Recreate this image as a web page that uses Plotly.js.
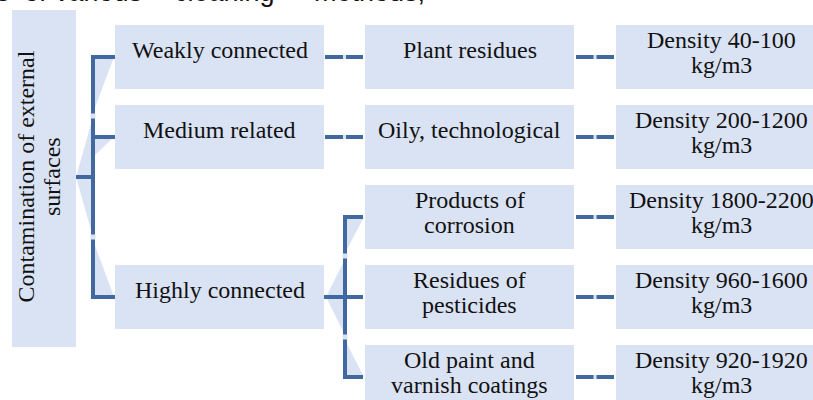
<!DOCTYPE html>
<html>
<head>
<meta charset="utf-8">
<script src="https://cdn.plot.ly/plotly-3.0.1.min.js"></script>
<style>html,body{margin:0;padding:0;background:#fff;}#chart{width:813px;height:400px;}</style>
</head>
<body>
<div id="chart"></div>
<script>
// ---- data ----
const captionWords = ["s", "of", "various", "cleaning", "methods,"];
const rootLabel = ["Contamination of external", "surfaces"];
const level1Labels = [["Weakly connected"], ["Medium related"], ["Highly connected"]];
const level1Rows = [0, 1, 3];
const level2Labels = [["Plant residues"], ["Oily, technological"], ["Products of", "corrosion"], ["Residues of", "pesticides"], ["Old paint and", "varnish coatings"]];
const level2Parent = [0, 1, 2, 2, 2];
const level3Labels = [["Density 40-100", "kg/m3"], ["Density 200-1200", "kg/m3"], ["Density 1800-2200", "kg/m3"], ["Density 960-1600", "kg/m3"], ["Density 920-1920", "kg/m3"]];

// ---- geometry / style ----
const FILL = "#dae3f3", LINE = "#41699f", TXT = "#111111";
const rowC = r => 57 + 80 * r;
const BH = 64;
const col = {root: [12, 76], l1: [115, 324], l2: [365, 574], l3: [616, 826]};
const shapes = [], ann = [];
const fontBox = {family: "Liberation Serif, Times New Roman, serif", size: 24, color: TXT};

function rect(x0, x1, y0, y1, color) {
  shapes.push({type: "rect", xref: "x", yref: "y", x0, x1, y0, y1, fillcolor: color, line: {width: 0}, layer: "below"});
}
function tri(pts) {
  shapes.push({type: "path", xref: "x", yref: "y", path: "M" + pts.map(p => p.join(",")).join("L") + "Z", fillcolor: FILL, line: {width: 0}, layer: "below"});
}
function seg(x0, y0, x1, y1) {
  shapes.push({type: "line", xref: "x", yref: "y", x0, y0, x1, y1, line: {color: LINE, width: 4}});
}
function gap(x, y, w, h) {
  shapes.push({type: "rect", xref: "x", yref: "y", x0: x - w / 2, x1: x + w / 2, y0: y - h / 2, y1: y + h / 2, fillcolor: FILL, line: {width: 0}});
}
function boxText(c, r, lines) {
  const top = rowC(r) - BH / 2;
  const cx = (c[0] + c[1]) / 2;
  const ys = lines.length === 1 ? [top + 25] : [top + 15, top + 39.5];
  lines.forEach((t, i) => ann.push({x: cx, y: ys[i], xref: "x", yref: "y", text: t, showarrow: false, xanchor: "center", yanchor: "middle", font: fontBox}));
}
function box(c, r, lines) {
  rect(c[0], c[1], rowC(r) - BH / 2, rowC(r) + BH / 2, FILL);
  boxText(c, r, lines);
}

// root box
const rootMid = 177;
rect(col.root[0], col.root[1], 10, 347, FILL);
ann.push({x: 25.5, y: rootMid, xref: "x", yref: "y", text: rootLabel[0], textangle: -90, showarrow: false, xanchor: "center", yanchor: "middle", font: fontBox});
ann.push({x: 52, y: rootMid, xref: "x", yref: "y", text: rootLabel[1], textangle: -90, showarrow: false, xanchor: "center", yanchor: "middle", font: fontBox});

// level 1 tree
const vx1 = 93;
const l1Y = level1Rows.map(rowC);
tri([[col.root[1], rootMid], [vx1, 117], [vx1, 237]]);
tri([[vx1, l1Y[0]], [col.l1[0] - 1, l1Y[0]], [vx1, 113]]);
tri([[vx1, l1Y[1]], [col.l1[0] - 1, l1Y[1]], [vx1, 157]]);
tri([[vx1, 240], [vx1, l1Y[2]], [col.l1[0] - 1, l1Y[2]]]);
seg(col.root[1], rootMid, vx1, rootMid);
seg(vx1, l1Y[0] - 2, vx1, l1Y[2] + 2);
l1Y.forEach(y => seg(vx1, y, col.l1[0], y));
gap(vx1, 116, 5, 5); gap(vx1, 237, 5, 5);
level1Labels.forEach((l, i) => box(col.l1, level1Rows[i], l));

// level 2
const vx2 = 345;
level2Labels.forEach((l, i) => box(col.l2, i, l));
level3Labels.forEach((l, i) => box(col.l3, i, l));
// single-child dashed connectors
level2Parent.forEach((p, i) => {
  const count = level2Parent.filter(q => q === p).length;
  if (count === 1) {
    const y = rowC(i);
    seg(col.l1[1] + 1, y, col.l2[0] - 2, y);
    gap((col.l1[1] + col.l2[0]) / 2, y, 3, 4);
  }
});
// multi-child tree for "Highly connected"
const kids = level2Parent.map((p, i) => p === 2 ? i : -1).filter(i => i >= 0);
const kY = kids.map(rowC);
const pY = rowC(level1Rows[2]);
tri([[vx2, kY[0]], [col.l2[0] - 1, kY[0]], [vx2, 253]]);
tri([[vx2, 259], [col.l1[1] + 2, pY], [vx2, 335]]);
tri([[vx2, 340], [vx2, kY[2]], [col.l2[0] - 1, kY[2]]]);
seg(col.l1[1], pY, vx2, pY);
seg(vx2, kY[0] - 2, vx2, kY[kY.length - 1] + 2);
kY.forEach(y => seg(vx2, y, col.l2[0] - 2, y));
gap(vx2, 256, 5, 5); gap(vx2, 337, 5, 5);
// level2 -> level3 connectors
level3Labels.forEach((l, i) => {
  const y = rowC(i);
  seg(col.l2[1] + 2, y, col.l3[0] - 2, y);
  gap((col.l2[1] + col.l3[0]) / 2, y, 3, 4);
});

// caption fragment at top (partly above the page edge, as in the source)
const capX = [-6.5, 22, 53, 172, 312];
captionWords.forEach((w, i) => ann.push({x: capX[i] / 813, y: 1 + 8 / 400, xref: "paper", yref: "paper", text: w, showarrow: false, xanchor: "left", yanchor: "middle", font: {family: "Liberation Sans, Arial, sans-serif", size: 27, color: "#111"}}));

const layout = {
  width: 813, height: 400,
  margin: {l: 0, r: 0, t: 0, b: 0},
  paper_bgcolor: "#ffffff", plot_bgcolor: "#ffffff",
  xaxis: {range: [0, 813], visible: false, fixedrange: true},
  yaxis: {range: [400, 0], visible: false, fixedrange: true},
  shapes: shapes, annotations: ann, showlegend: false
};
Plotly.newPlot("chart", [{x: [], y: [], type: "scatter", mode: "markers", hoverinfo: "skip"}], layout, {displayModeBar: false, staticPlot: true});
</script>
</body>
</html>
